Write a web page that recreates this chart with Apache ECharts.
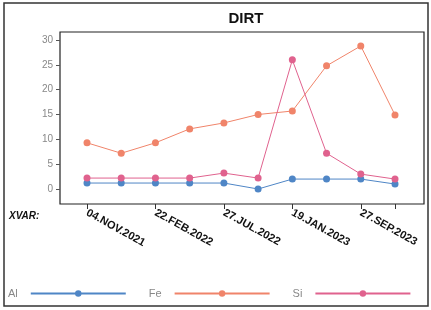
<!DOCTYPE html>
<html>
<head>
<meta charset="utf-8">
<style>
  html, body { margin: 0; padding: 0; background: #fff; }
  #chart { width: 431px; height: 310px; }
</style>
<script src="https://cdn.jsdelivr.net/npm/echarts@6/dist/echarts.min.js"></script>
</head>
<body>
<div id="chart"></div>
<script>
// tick labels on the x axis (one every second sample)
const dateLabels = ['04.NOV.2021', '22.FEB.2022', '27.JUL.2022', '19.JAN.2023', '27.SEP.2023']

// values, one per sample (10 samples)
const alValues = [1.2, 1.2, 1.2, 1.2, 1.2, 0, 2, 2, 2, 1]
const feValues = [9.3, 7.2, 9.3, 12.1, 13.3, 15, 15.7, 24.8, 28.8, 14.9]
const siValues = [2.2, 2.2, 2.2, 2.2, 3.2, 2.2, 26, 7.2, 3, 2]

const colors = { Al: '#4f86c6', Fe: '#f0846a', Si: '#e0628e' }

const chart = echarts.init(document.getElementById('chart'))

const toPairs = arr => arr.map((v, i) => [i, v])

const makeSeries = (name, values) => ({
  name: name,
  type: 'line',
  xAxisIndex: 1,
  yAxisIndex: 1,
  data: toPairs(values),
  symbol: 'circle',
  symbolSize: 7,
  itemStyle: { color: colors[name] },
  lineStyle: { width: 1, color: colors[name] },
  emphasis: { disabled: true }
})

const option = {
  animation: false,
  title: {
    text: 'DIRT',
    left: 241,
    top: 6,
    textAlign: 'center',
    textStyle: { fontSize: 15, fontWeight: 'bold', color: '#111', fontFamily: 'Liberation Sans' }
  },
  graphic: [
    {
      type: 'rect',
      shape: { x: 4, y: 3, width: 424, height: 303 },
      style: { fill: 'none', stroke: '#333', lineWidth: 1.5 },
      silent: true
    },
    {
      type: 'text',
      left: 9,
      top: 211,
      style: {
        text: 'XVAR:',
        fill: '#111',
        font: 'italic bold 10px "Liberation Sans"'
      }
    }
  ],
  legend: {
    left: 3,
    top: 283,
    align: 'right',
    itemWidth: 95,
    itemHeight: 8,
    itemGap: 22,
    textStyle: { color: '#888', fontSize: 11, fontFamily: 'Liberation Sans', padding: [0, 8, 0, 0] },
    data: ['Al', 'Fe', 'Si']
  },
  grid: [
    // frame
    { left: 60, right: 7, top: 32, bottom: 106, show: true, borderColor: '#222', borderWidth: 1.2, backgroundColor: 'transparent' },
    // data area
    { left: 87, right: 36, top: 40, bottom: 121 }
  ],
  xAxis: [
    { gridIndex: 0, type: 'value', show: false },
    {
      gridIndex: 1,
      type: 'value',
      min: 0,
      max: 9,
      interval: 2,
      offset: 15,
      splitLine: { show: false },
      axisLine: { show: false, onZero: false },
      axisTick: { show: true, length: 5, lineStyle: { color: '#333' } },
      axisLabel: {
        rotate: -29,
        margin: 8,
        color: '#111',
        fontSize: 11,
        fontWeight: 'bold',
        fontFamily: 'Liberation Sans',
        formatter: v => dateLabels[v / 2] || ''
      }
    }
  ],
  yAxis: [
    { gridIndex: 0, type: 'value', show: false },
    {
      gridIndex: 1,
      type: 'value',
      min: 0,
      max: 30,
      interval: 5,
      offset: 27,
      splitLine: { show: false },
      axisLine: { show: false, onZero: false },
      axisTick: { show: true, length: 4, lineStyle: { color: '#555' } },
      axisLabel: { color: '#888', fontSize: 10, margin: 7, fontFamily: 'Liberation Sans' }
    }
  ],
  series: [
    makeSeries('Al', alValues),
    makeSeries('Fe', feValues),
    makeSeries('Si', siValues)
  ]
}

chart.setOption(option)
</script>
</body>
</html>
